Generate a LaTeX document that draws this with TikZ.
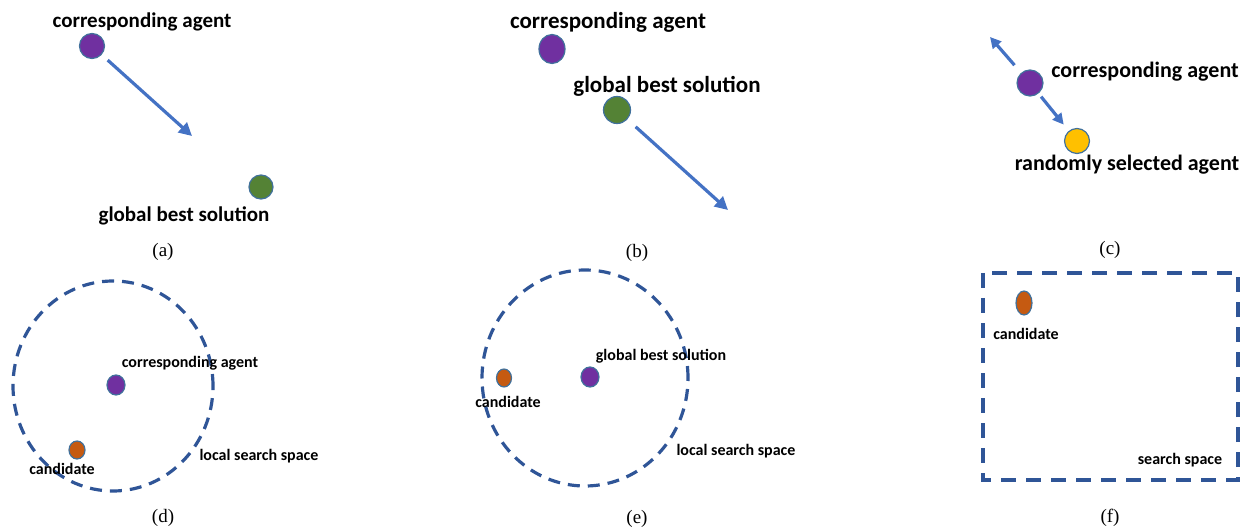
\documentclass[tikz,border=0pt]{standalone}
\usepackage{fontspec}
\setmainfont{Liberation Serif}
\newfontfamily\lblfont{Carlito}
\usetikzlibrary{arrows.meta,shapes.geometric}
\definecolor{agentpurple}{HTML}{7030A0}
\definecolor{bestgreen}{HTML}{548235}
\definecolor{candorange}{HTML}{C55A11}
\definecolor{randyellow}{HTML}{FFC000}
\definecolor{edgeblue}{HTML}{41719C}
\definecolor{arrowblue}{HTML}{4472C4}
\definecolor{spaceblue}{HTML}{2F5597}

\begin{document}
\begin{tikzpicture}[x=1pt, y=-1pt,
  blob/.style={ellipse, draw=edgeblue, line width=1.2pt, inner sep=0pt},
  agent/.style={blob, fill=agentpurple},
  best/.style={blob, fill=bestgreen},
  cand/.style={blob, fill=candorange},
  rnd/.style={blob, fill=randyellow},
  movearrow/.style={-{Triangle[length=13pt,width=13pt]}, line width=3.2pt, arrowblue},
  region/.style={spaceblue, line width=3.2pt, dash pattern=on 12pt off 8pt},
  lbl/.style={font=\lblfont\bfseries\fontsize{21}{24}\selectfont, inner sep=0pt},
  smalllbl/.style={font=\lblfont\bfseries\fontsize{16}{18}\selectfont, inner sep=0pt},
  subcap/.style={font=\fontsize{19}{22}\selectfont, inner sep=0pt}
]
\useasboundingbox (0,0) rectangle (1242,529);

% (a) move towards the global best
\node[agent, minimum width=25pt, minimum height=25pt] (a-agent) at (92,46) {};
\node[best, minimum width=24pt, minimum height=24pt] (a-best) at (261,187) {};
\coordinate (a-tip) at (192,136);
\node[lbl] at (142,22) {corresponding agent};
\node[lbl] at (184,216) {global best solution};
\draw[movearrow, shorten <=8pt] (a-agent) -- (a-tip);
\node[subcap] (cap-a) at (163,252) {(a)};

% (b) move away from the global best
\node[agent, minimum width=26pt, minimum height=29pt] (b-agent) at (552,49) {};
\node[best, minimum width=27pt, minimum height=27pt] (b-best) at (617,110) {};
\coordinate (b-tip) at (728,210);
\node[lbl, font=\lblfont\bfseries\fontsize{23}{26}\selectfont] at (608,22) {corresponding agent};
\node[lbl, font=\lblfont\bfseries\fontsize{23}{26}\selectfont] at (667,86) {global best solution};
\draw[movearrow, shorten <=11pt] (b-best) -- (b-tip);
\node[subcap] (cap-b) at (637,253) {(b)};

% (c) move relative to a random agent
\node[agent, minimum width=26pt, minimum height=26pt] (c-agent) at (1030,83) {};
\node[rnd, minimum width=25pt, minimum height=25pt] (c-rand) at (1077,141) {};
\coordinate (c-away) at (990,37);
\node[lbl, font=\lblfont\bfseries\fontsize{22}{25}\selectfont] at (1145,72) {corresponding agent};
\node[lbl, font=\lblfont\bfseries\fontsize{22}{25}\selectfont] at (1127,165) {randomly selected agent};
\draw[movearrow, -{Triangle[length=11pt,width=11pt]}, shorten <=10pt] (c-agent) -- (c-away);
\draw[movearrow, -{Triangle[length=11pt,width=11pt]}, shorten <=4pt, shorten >=8pt] (c-agent) -- (c-rand);
\node[subcap] (cap-c) at (1110,250) {(c)};

% (d) local search round the agent
\draw[region] (113,386) ellipse [x radius=100pt, y radius=105pt];
\node[agent, minimum width=18pt, minimum height=20pt] (d-agent) at (116,385) {};
\node[cand, minimum width=16pt, minimum height=18pt] (d-cand) at (77,450) {};
\node[smalllbl] at (190,363) {corresponding agent};
\node[smalllbl] at (62,469) {candidate};
\node[smalllbl] at (259,456) {local search space};
\node[subcap] (cap-d) at (163,518) {(d)};

% (e) local search round the global best
\draw[region] (585,378) ellipse [x radius=103pt, y radius=108pt];
\node[agent, minimum width=18pt, minimum height=20pt] (e-best) at (590,377) {};
\node[cand, minimum width=15pt, minimum height=18pt] (e-cand) at (504,378) {};
\node[smalllbl] at (661,356) {global best solution};
\node[smalllbl] at (508,402) {candidate};
\node[smalllbl] at (736,451) {local search space};
\node[subcap] (cap-e) at (637,519) {(e)};

% (f) random candidate in the whole space
\draw[region, dash pattern=on 15pt off 10pt] (983,273) rectangle (1238,480);
\node[cand, minimum width=16pt, minimum height=24pt] (f-cand) at (1024,303) {};
\node[smalllbl] at (1026,334) {candidate};
\node[smalllbl] at (1180,460) {search space};
\node[subcap] (cap-f) at (1110,518) {(f)};
\end{tikzpicture}
\end{document}
